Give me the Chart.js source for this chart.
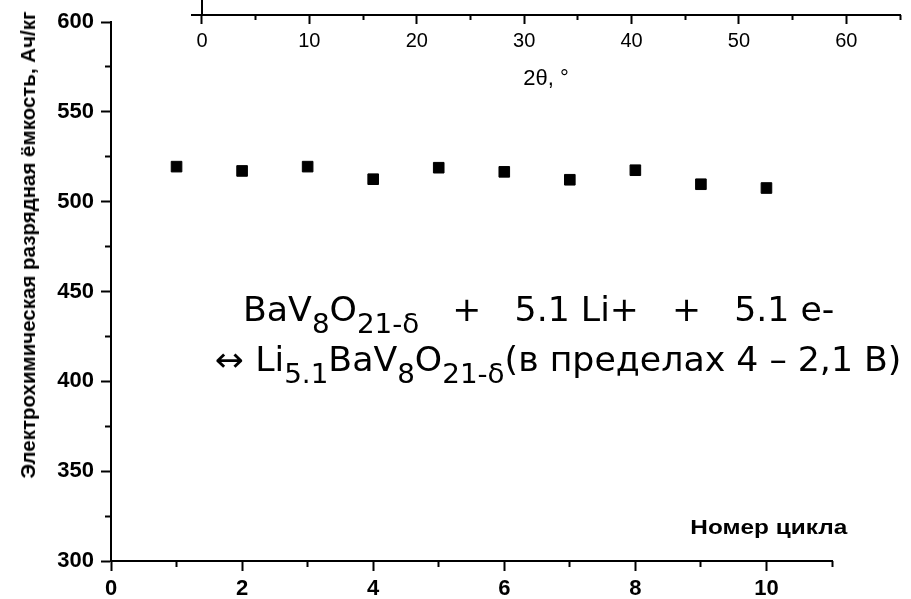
<!DOCTYPE html>
<html lang="ru">
<head>
<meta charset="UTF-8">
<title>Разрядная ёмкость BaV8O21-δ по циклам</title>
<script src="https://cdn.jsdelivr.net/npm/chart.js@4"></script>
<style>
    body { margin: 0; background: #fff; }
    #wrap { position: relative; width: 911px; height: 599px; overflow: hidden; }
    #wrap canvas { position: absolute; left: 0; top: 0; }
    .note { position: absolute; white-space: pre; color: #000; line-height: 1; }
    #yTitle {
        left: 28px; top: 245px;
        font: bold 20.5px "Liberation Sans", Arial, sans-serif;
        transform: translate(-50%, -50%) rotate(-90deg);
    }
    #cycleLabel {
        right: 64px; top: 515px;
        font: bold 21px "Liberation Sans", Arial, sans-serif;
        transform: scaleX(1.16); transform-origin: right center;
    }
    .reaction {
        font-family: "DejaVu Sans Condensed", "DejaVu Sans", sans-serif; font-size: 33px;
        transform: scaleX(1.17); transform-origin: left center;
    }
    .reaction sub { font-size: 80%; vertical-align: -0.45em; line-height: 0; }
    #reaction1 { left: 243px; top: 293px; }
    #reaction2 { left: 215px; top: 343px; }
</style>
</head>
<body>
<div id="wrap">
    <canvas id="capacityChart" width="911" height="599"></canvas>
    <canvas id="xrdAxis" width="911" height="100"></canvas>
    <div class="note" id="yTitle">Электрохимическая разрядная ёмкость, Ач/кг</div>
    <div class="note" id="cycleLabel">Номер цикла</div>
    <div class="note reaction" id="reaction1">BaV<sub>8</sub>O<sub>21-δ</sub>   +   5.1 Li+   +   5.1 e-</div>
    <div class="note reaction" id="reaction2">↔ Li<sub>5.1</sub>BaV<sub>8</sub>O<sub>21-δ</sub>(в пределах 4 – 2,1 В)</div>
</div>

<script>
    // разрядная ёмкость по номеру цикла, Ач/кг
    const cycles = [1, 2, 3, 4, 5, 6, 7, 8, 9, 10];
    const capacity = [519.5, 517.1, 519.5, 512.5, 518.9, 516.6, 512.2, 517.5, 509.7, 507.6];

    // подписи и засечки осей
    const cycleTicks = [0, 2, 4, 6, 8, 10];
    const cycleMinor = [1, 3, 5, 7, 9, 11];
    const capacityTicks = [300, 350, 400, 450, 500, 550, 600];
    const capacityMinor = [325, 375, 425, 475, 525, 575];
    const thetaTicks = [0, 10, 20, 30, 40, 50, 60];
    const thetaMinor = [5, 15, 25, 35, 45, 55, 65];

    const sans = '"Liberation Sans", Arial, sans-serif';
    const setTicks = values => scale => { scale.ticks = values.map(v => ({ value: v })); };

    // короткие засечки рисуются отдельной осью без подписей
    function minorAxis(axis, values, position, min, max, len) {
        return {
            type: 'linear', axis: axis, position: position, min: min, max: max,
            afterBuildTicks: setTicks(values),
            ticks: { display: false },
            grid: { drawOnChartArea: false, tickLength: len, tickWidth: 2, tickColor: '#000' },
            border: { display: false }
        };
    }

    new Chart(document.getElementById('capacityChart'), {
        type: 'scatter',
        data: {
            datasets: [{
                data: cycles.map((c, i) => ({ x: c, y: capacity[i] })),
                pointStyle: 'rect',
                pointRadius: 7.5,
                backgroundColor: '#000',
                borderColor: '#000',
                borderWidth: 1
            }]
        },
        options: {
            responsive: false,
            animation: false,
            events: [],
            plugins: { legend: { display: false }, tooltip: { enabled: false } },
            layout: { padding: { left: 0, right: 79, top: 22, bottom: 0 } },
            scales: {
                x: {
                    type: 'linear', position: 'bottom', min: 0, max: 11,
                    afterBuildTicks: setTicks(cycleTicks),
                    afterFit: s => { s.height = 38; },
                    grid: { drawOnChartArea: false, tickLength: 10, tickWidth: 2, tickColor: '#000' },
                    border: { color: '#000', width: 2 },
                    ticks: { color: '#000', padding: 5, maxRotation: 0, font: { family: sans, size: 22, weight: 'bold' } }
                },
                xMinor: minorAxis('x', cycleMinor, { y: 300 }, 0, 11, 6),
                y: {
                    type: 'linear', position: 'left', min: 300, max: 600,
                    afterBuildTicks: setTicks(capacityTicks),
                    afterFit: s => { s.width = 111; },
                    grid: { drawOnChartArea: false, tickLength: 10, tickWidth: 2, tickColor: '#000' },
                    border: { color: '#000', width: 2 },
                    ticks: { color: '#000', padding: 7, font: { family: sans, size: 22, weight: 'bold' } }
                },
                yMinor: minorAxis('y', capacityMinor, { x: 0 }, 300, 600, 6)
            }
        }
    });

    // ось 2θ над графиком
    new Chart(document.getElementById('xrdAxis'), {
        type: 'scatter',
        data: { datasets: [] },
        options: {
            responsive: false,
            animation: false,
            events: [],
            plugins: { legend: { display: false }, tooltip: { enabled: false } },
            layout: { padding: { left: 192, right: 11, top: 0, bottom: 0 } },
            scales: {
                x: {
                    type: 'linear', position: 'bottom', min: -0.93, max: 65,
                    afterBuildTicks: setTicks(thetaTicks),
                    afterFit: s => { s.height = 85; },
                    grid: { drawOnChartArea: false, tickLength: 9, tickWidth: 2, tickColor: '#000' },
                    border: { color: '#000', width: 2 },
                    ticks: { color: '#000', padding: 5, maxRotation: 0, font: { family: sans, size: 20 } },
                    title: {
                        display: true, text: '2θ, °', color: '#000',
                        padding: { top: 0, bottom: 8 },
                        font: { family: sans, size: 22 }
                    }
                },
                xMinor: minorAxis('x', thetaMinor, { y: 0 }, -0.93, 65, 5),
                y: {
                    type: 'linear', position: { x: 0 }, min: 0, max: 1,
                    ticks: { display: false },
                    grid: { display: false },
                    border: { color: '#000', width: 2 }
                }
            }
        }
    });
</script>
</body>
</html>
